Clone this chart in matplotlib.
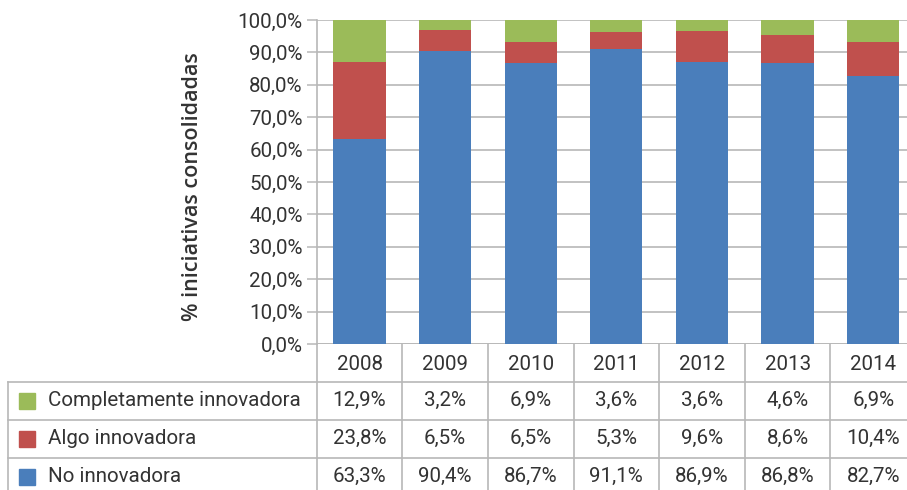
import matplotlib
matplotlib.use("Agg")
import matplotlib.pyplot as plt
from matplotlib.lines import Line2D
from matplotlib.patches import Rectangle

plt.rcParams["font.family"] = ["Roboto", "DejaVu Sans"]

years = ["2008", "2009", "2010", "2011", "2012", "2013", "2014"]
series_names = ["Completamente innovadora", "Algo innovadora", "No innovadora"]
completamente = [12.9, 3.2, 6.9, 3.6, 3.6, 4.6, 6.9]
algo = [23.8, 6.5, 6.5, 5.3, 9.6, 8.6, 10.4]
no_innov = [63.3, 90.4, 86.7, 91.1, 86.9, 86.8, 82.7]
y_ticks = [0, 10, 20, 30, 40, 50, 60, 70, 80, 90, 100]

c_green = "#9BBB59"
c_red = "#C0504D"
c_blue = "#4A7EBB"
text_c = "#333333"
line_c = "#b8b8b8"
fs = 14.8

W, H = 907, 490
fig = plt.figure(figsize=(W / 100, H / 100), dpi=100)


def fx(x):
    return x / W


def fy(y):
    return 1 - y / H


# chart area in pixels
L, R, T, B = 316.7, 916.0, 20.0, 344.0
ax = fig.add_axes([fx(L), fy(B), fx(R) - fx(L), fy(T) - fy(B)])

n = len(years)
xs = list(range(n))
bw = 0.61
ax.bar(xs, no_innov, bw, color=c_blue, zorder=3)
bottom2 = no_innov
ax.bar(xs, algo, bw, bottom=bottom2, color=c_red, zorder=3)
bottom3 = [a + b for a, b in zip(no_innov, algo)]
ax.bar(xs, completamente, bw, bottom=bottom3, color=c_green, zorder=3)

ax.set_xlim(-0.5, n - 0.5)
ax.set_ylim(0, 100)
ax.set_yticks(y_ticks)
ax.set_yticklabels([f"{v:.1f}%".replace(".", ",") for v in y_ticks],
                   fontsize=fs, color=text_c)
ax.set_xticks([])
ax.tick_params(axis="y", length=7, width=1.1, color=line_c, pad=3)
ax.yaxis.grid(True, color=line_c, linewidth=1.2, zorder=0)
for s in ["top", "right", "bottom"]:
    ax.spines[s].set_visible(False)
ax.spines["left"].set_color(line_c)
ax.spines["left"].set_linewidth(1.2)
ax.axhline(0, color=line_c, linewidth=1.2, zorder=1)
ax.set_ylabel("% iniciativas consolidadas", fontsize=15.5, color=text_c,
              fontweight="semibold", family=["Open Sans", "DejaVu Sans"])
ax.yaxis.label.set_va("center")
ax.yaxis.set_label_coords((193 - L) / (R - L), (B - 187) / (B - T))

# data table below the chart
row_h = 37.9
rows_y = [B + row_h * i for i in range(5)]
col_w = (R - L) / n
table_left = 8.0

def hline(y, x0, x1):
    fig.add_artist(Line2D([fx(x0), fx(x1)], [fy(y), fy(y)], color=line_c,
                          linewidth=1.2, transform=fig.transFigure))

def vline(x, y0, y1):
    fig.add_artist(Line2D([fx(x), fx(x)], [fy(y0), fy(y1)], color=line_c,
                          linewidth=1.2, transform=fig.transFigure))

for i in range(1, 4):
    hline(rows_y[i], table_left, R)
vline(table_left, rows_y[1], H + 10)
for j in range(n + 1):
    vline(L + j * col_w, B, H + 10)

for j, yr in enumerate(years):
    cx = L + (j + 0.5) * col_w
    fig.text(fx(cx), fy((rows_y[0] + rows_y[1]) / 2 + 1.5), yr, ha="center",
             va="center", fontsize=fs, color=text_c)

table_series = [completamente, algo, no_innov]
table_colors = [c_green, c_red, c_blue]
for i, (name, vals, col) in enumerate(zip(series_names, table_series, table_colors)):
    cy = (rows_y[i + 1] + rows_y[i + 2]) / 2
    sq = 16
    fig.add_artist(Rectangle((fx(19), fy(cy + sq / 2)), fx(sq), fy(0) - fy(sq),
                             color=col, transform=fig.transFigure))
    fig.text(fx(47.5), fy(cy), name, ha="left", va="center", fontsize=fs,
             color=text_c)
    for j, v in enumerate(vals):
        cx = L + (j + 0.5) * col_w
        fig.text(fx(cx), fy(cy), f"{v:.1f}%".replace(".", ","), ha="center",
                 va="center", fontsize=fs, color=text_c)

fig.savefig("out.png", dpi=100, facecolor="white")
